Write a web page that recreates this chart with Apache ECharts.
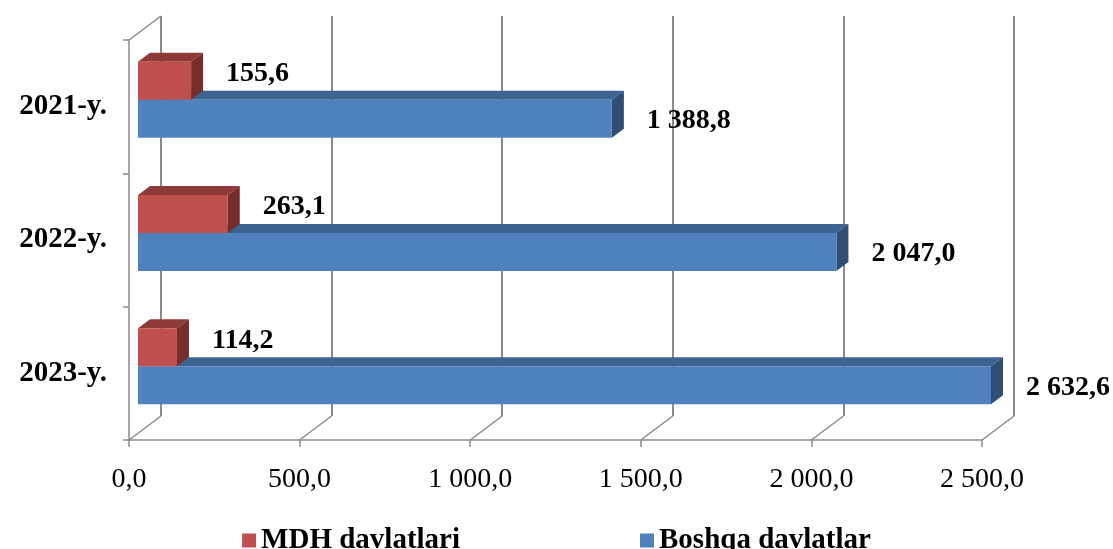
<!DOCTYPE html>
<html>
<head>
<meta charset="utf-8">
<script src="https://cdn.jsdelivr.net/npm/echarts@6/dist/echarts.min.js"></script>
<style>
  html, body { margin: 0; padding: 0; background: #fff; }
  #chart { width: 1113px; height: 549px; }
</style>
</head>
<body>
<div id="chart"></div>
<script>
const years = ['2021-y.', '2022-y.', '2023-y.'];
const mdh = [155.6, 263.1, 114.2];
const boshqa = [1388.8, 2047.0, 2632.6];
const ticks = [0, 500, 1000, 1500, 2000, 2500];
const XMAX = 2500;

const FONT = '"Liberation Serif", "Times New Roman", serif';
const GRID = '#8a8a8a';
const WALL = [32, -24];   // back wall offset
const DEPTH = [12, -9];   // bar depth
const SHIFT = [9, -7];    // bars sit a bit behind the front plane

function fmt(v) {
  const [i, d] = v.toFixed(1).split('.');
  return i.replace(/\B(?=(\d{3})+(?!\d))/g, ' ') + ',' + d;
}

// one 3d box (front, top and side faces) plus its label;
// like Excel, the box is cut at the axis max but the label keeps the real value
function box(upper, front, top, side, labelDy) {
  return function (params, api) {
    const val = api.value(0);
    const cat = api.value(1);
    const c = api.coord([Math.min(val, XMAX), cat]);
    const o = api.coord([0, cat]);
    const h = api.size([0, 1])[1] * 0.285;
    const x0 = o[0] + SHIFT[0];
    const x1 = c[0] + SHIFT[0];
    const y0 = upper ? c[1] + SHIFT[1] - h : c[1] + SHIFT[1];
    const y1 = y0 + h;
    const dx = DEPTH[0], dy = DEPTH[1];
    return {
      type: 'group',
      children: [
        { type: 'polygon', shape: { points: [[x0, y0], [x0 + dx, y0 + dy], [x1 + dx, y0 + dy], [x1, y0]] },
          style: { fill: top } },
        { type: 'polygon', shape: { points: [[x1, y0], [x1 + dx, y0 + dy], [x1 + dx, y1 + dy], [x1, y1]] },
          style: { fill: side } },
        { type: 'rect', shape: { x: x0, y: y0, width: x1 - x0, height: h },
          style: { fill: front } },
        { type: 'text', x: x1 + 35, y: (y0 + y1) / 2 + labelDy,
          style: { text: fmt(val), fill: '#000', font: 'bold 28px ' + FONT,
                   align: 'left', verticalAlign: 'middle' } }
      ]
    };
  };
}

const chart = echarts.init(document.getElementById('chart'));

chart.setOption({
  backgroundColor: '#fff',
  animation: false,
  legend: {
    data: ['MDH davlatlari', 'Boshqa davlatlar'],
    left: 'center',
    top: 521,
    icon: 'rect',
    itemWidth: 14,
    itemHeight: 14,
    itemGap: 180,
    textStyle: { fontFamily: FONT, fontWeight: 'bold', fontSize: 29, color: '#000' }
  },
  grid: [
    { left: 129, top: 40, width: 853, height: 400 },
    { left: 129 + WALL[0], top: 40 + WALL[1], width: 853, height: 400 }
  ],
  xAxis: [
    {
      gridIndex: 0, type: 'value', min: 0, max: XMAX, interval: 500,
      axisLine: { show: true, lineStyle: { color: GRID, width: 1.5 } },
      axisTick: { show: true, length: 7, lineStyle: { color: GRID, width: 1.5 } },
      splitLine: { show: false },
      axisLabel: { margin: 26, fontFamily: FONT, fontSize: 28, color: '#000', formatter: fmt }
    },
    {
      gridIndex: 1, type: 'value', min: 0, max: XMAX, interval: 500,
      axisLine: { show: false }, axisTick: { show: false }, axisLabel: { show: false },
      splitLine: { show: true, lineStyle: { color: GRID, width: 2 } }
    }
  ],
  yAxis: [
    {
      gridIndex: 0, type: 'category', data: years, inverse: true,
      axisLine: { show: true, lineStyle: { color: GRID, width: 1.5 } },
      axisTick: { show: true, length: 6, lineStyle: { color: GRID, width: 1.5 } },
      axisLabel: { margin: 22, fontFamily: FONT, fontWeight: 'bold', fontSize: 29, color: '#000' }
    },
    { gridIndex: 1, type: 'category', data: years, inverse: true, show: false }
  ],
  series: [
    {
      name: 'floor', type: 'custom', xAxisIndex: 0, yAxisIndex: 0, silent: true, z: 1,
      data: ticks.map(t => [t, 0]),
      encode: { x: 0, y: 1 },
      renderItem: function (params, api) {
        const cs = params.coordSys;
        const x = api.coord([api.value(0), 0])[0];
        const b = cs.y + cs.height;
        const kids = [{ type: 'line', shape: { x1: x, y1: b, x2: x + WALL[0], y2: b + WALL[1] },
                        style: { stroke: GRID, lineWidth: 1.5 } }];
        if (api.value(0) === 0) {
          kids.push({ type: 'line', shape: { x1: x, y1: cs.y, x2: x + WALL[0], y2: cs.y + WALL[1] },
                      style: { stroke: GRID, lineWidth: 1.5 } });
        }
        return { type: 'group', children: kids };
      }
    },
    {
      name: 'Boshqa davlatlar', type: 'custom', xAxisIndex: 0, yAxisIndex: 0, z: 2,
      itemStyle: { color: '#4F81BD' },
      data: boshqa.map((v, i) => [v, i]),
      encode: { x: 0, y: 1 },
      renderItem: box(false, '#4F81BD', '#3D6391', '#2F4E75', 2)
    },
    {
      name: 'MDH davlatlari', type: 'custom', xAxisIndex: 0, yAxisIndex: 0, z: 3,
      itemStyle: { color: '#C0504D' },
      data: mdh.map((v, i) => [v, i]),
      encode: { x: 0, y: 1 },
      renderItem: box(true, '#C0504D', '#8E3A38', '#772D2B', -7)
    }
  ]
});
</script>
</body>
</html>
